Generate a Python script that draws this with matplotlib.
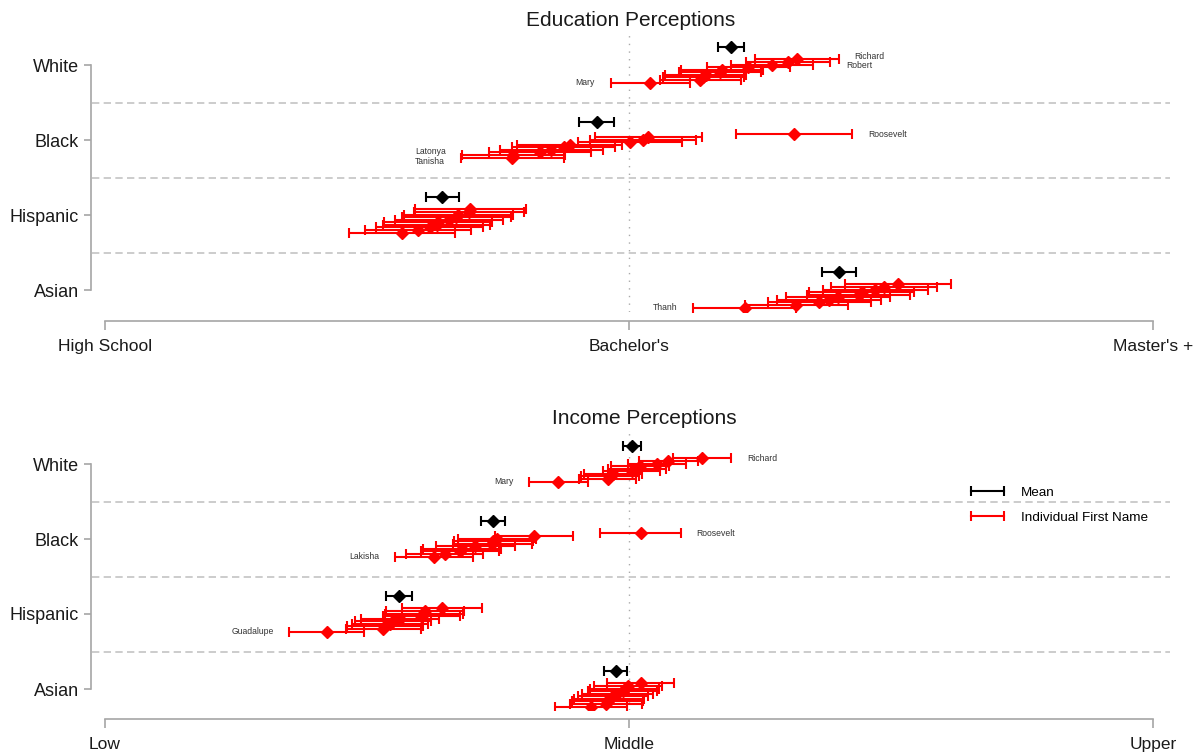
import numpy as np
import matplotlib
matplotlib.use('Agg')
import matplotlib.pyplot as plt
from matplotlib.lines import Line2D
from matplotlib.legend_handler import HandlerLine2D

plt.rcParams['font.family'] = ['Liberation Sans', 'DejaVu Sans']

groups = ['White', 'Black', 'Hispanic', 'Asian']

# Education scale: 1 = High School, 2 = Bachelor's, 3 = Master's +
edu_ticklabels = ['High School', "Bachelor's", "Master's +"]
edu_white = [2.320, 2.304, 2.273, 2.228, 2.178, 2.174, 2.146, 2.142, 2.136, 2.041]
edu_black = [2.315, 2.037, 2.027, 2.002, 1.887, 1.875, 1.852, 1.830, 1.779, 1.777]
edu_hispanic = [1.697, 1.694, 1.674, 1.670, 1.656, 1.636, 1.633, 1.620, 1.598, 1.566]
edu_asian = [2.513, 2.487, 2.470, 2.444, 2.438, 2.399, 2.382, 2.363, 2.319, 2.221]

edu_white_ci = [0.080, 0.080, 0.079, 0.079, 0.078, 0.078, 0.078, 0.077, 0.077, 0.076]
edu_black_ci = [0.111, 0.102, 0.101, 0.100, 0.100, 0.099, 0.099, 0.098, 0.098, 0.098]
edu_hispanic_ci = [0.106, 0.105, 0.104, 0.104, 0.103, 0.103, 0.102, 0.102, 0.101, 0.101]
edu_asian_ci = [0.101, 0.101, 0.100, 0.100, 0.099, 0.099, 0.099, 0.098, 0.098, 0.098]

edu_white_names = ['Richard', 'Robert', '', '', '', '', '', '', '', 'Mary']
edu_black_names = ['Roosevelt', '', '', '', '', '', '', '', 'Latonya', 'Tanisha']
edu_hispanic_names = ['', '', '', '', '', '', '', '', '', '']
edu_asian_names = ['', '', '', '', '', '', '', '', '', 'Thanh']

edu_means = [2.194, 1.938, 1.644, 2.401]
edu_means_ci = [0.025, 0.033, 0.032, 0.033]

# Income scale: 1 = Low, 2 = Middle, 3 = Upper
inc_ticklabels = ['Low', 'Middle', 'Upper']
inc_white = [2.139, 2.075, 2.053, 2.021, 2.015, 2.005, 1.970, 1.964, 1.959, 1.865]
inc_black = [2.022, 1.819, 1.748, 1.741, 1.739, 1.707, 1.681, 1.677, 1.648, 1.628]
inc_hispanic = [1.643, 1.611, 1.609, 1.604, 1.563, 1.550, 1.544, 1.534, 1.531, 1.423]
inc_asian = [2.022, 1.998, 1.992, 1.988, 1.978, 1.970, 1.962, 1.959, 1.956, 1.927]

inc_white_ci = [0.056, 0.056, 0.055, 0.055, 0.055, 0.055, 0.055, 0.055, 0.055, 0.056]
inc_black_ci = [0.077, 0.075, 0.075, 0.075, 0.075, 0.075, 0.074, 0.074, 0.074, 0.075]
inc_hispanic_ci = [0.076, 0.075, 0.075, 0.074, 0.074, 0.073, 0.073, 0.073, 0.072, 0.071]
inc_asian_ci = [0.064, 0.065, 0.066, 0.066, 0.067, 0.067, 0.067, 0.068, 0.068, 0.069]

inc_white_names = ['Richard', '', '', '', '', '', '', '', '', 'Mary']
inc_black_names = ['Roosevelt', '', '', '', '', '', '', '', '', 'Lakisha']
inc_hispanic_names = ['', '', '', '', '', '', '', '', '', 'Guadalupe']
inc_asian_names = ['', '', '', '', '', '', '', '', '', '']

inc_means = [2.006, 1.741, 1.561, 1.975]
inc_means_ci = [0.017, 0.023, 0.024, 0.022]

RED = '#ff0000'
AXIS_GREY = '#a6a6a6'
MIN_LABEL_GAP = 0.125


def place_labels(ax, entries, ha):
    # entries: (x, y, name) sorted from top to bottom; pull apart labels that collide
    ys = [e[1] for e in entries]
    i = 0
    while i < len(entries) - 1:
        if ys[i] - ys[i + 1] < MIN_LABEL_GAP:
            mid = (ys[i] + ys[i + 1]) / 2
            ys[i] = mid + MIN_LABEL_GAP / 2
            ys[i + 1] = mid - MIN_LABEL_GAP / 2
        i += 1
    for (x, _, name), y in zip(entries, ys):
        ax.text(x, y, name, ha=ha, va='center', fontsize=6.2, color='#333333')


def draw_panel(ax, values, cis, names, means, means_ci, ticklabels, ylim):
    ax.set_xlim(0.9752, 3.0324)
    ax.set_ylim(*ylim)
    ax.axvline(2, color='#aaaaaa', lw=1, ls=(0, (1, 4.5)), zorder=0)
    for y in [3.5, 2.5, 1.5]:
        ax.axhline(y, color='#c4c4c4', lw=1.2, ls=(0, (4.4, 2.6)), zorder=0)

    for i, g in enumerate(groups):
        base = len(groups) - i
        vals = np.asarray(values[i])
        ci = np.asarray(cis[i])
        ys = base + np.linspace(0.075, -0.235, len(vals))
        ax.errorbar(vals, ys, xerr=ci, fmt='D', color=RED, ms=6,
                    elinewidth=1.5, capsize=3.6, capthick=1.5, zorder=3)
        ax.errorbar(means[i], base + 0.24, xerr=means_ci[i], fmt='D',
                    color='black', ms=6.5, elinewidth=1.5, capsize=3.6,
                    capthick=1.5, zorder=4)
        right, left = [], []
        for v, c, y, name in zip(vals, ci, ys, names[i]):
            if not name:
                continue
            if v > means[i]:
                right.append((v + c + 0.03, y, name))
            else:
                left.append((v - c - 0.03, y, name))
        place_labels(ax, right, 'left')
        place_labels(ax, left, 'right')

    for side in ['top', 'right']:
        ax.spines[side].set_visible(False)
    ax.spines['left'].set_bounds(1, 4)
    ax.spines['left'].set_position(('outward', 1))
    ax.spines['bottom'].set_bounds(1, 3)
    ax.spines['bottom'].set_position(('outward', 6.5))
    for side in ['left', 'bottom']:
        ax.spines[side].set_color(AXIS_GREY)
        ax.spines[side].set_linewidth(1.2)

    ax.set_yticks([4, 3, 2, 1])
    ax.set_yticklabels(groups)
    ax.set_xticks([1, 2, 3])
    ax.set_xticklabels(ticklabels)
    ax.tick_params(axis='y', length=5, width=1.2, color=AXIS_GREY, pad=3.5,
                   labelsize=13, labelcolor='#1a1a1a')
    ax.tick_params(axis='x', length=6.5, width=1.2, color=AXIS_GREY, pad=6.5,
                   labelsize=12.5, labelcolor='#1a1a1a')


fig = plt.figure(figsize=(11.95, 7.55), dpi=100)
W, H = 1195, 755

ax1 = fig.add_axes([92 / W, 1 - 312 / H, (1170 - 92) / W, 282 / H])
draw_panel(ax1,
           [edu_white, edu_black, edu_hispanic, edu_asian],
           [edu_white_ci, edu_black_ci, edu_hispanic_ci, edu_asian_ci],
           [edu_white_names, edu_black_names, edu_hispanic_names, edu_asian_names],
           edu_means, edu_means_ci, edu_ticklabels, (0.707, 4.467))

ax2 = fig.add_axes([92 / W, 1 - 710 / H, (1170 - 92) / W, 282 / H])
draw_panel(ax2,
           [inc_white, inc_black, inc_hispanic, inc_asian],
           [inc_white_ci, inc_black_ci, inc_hispanic_ci, inc_asian_ci],
           [inc_white_names, inc_black_names, inc_hispanic_names, inc_asian_names],
           inc_means, inc_means_ci, inc_ticklabels, (0.72, 4.48))

fig.text(631 / W, 1 - 21 / H, 'Education Perceptions', ha='center', va='center',
         fontsize=15, color='#1a1a1a')
fig.text(644 / W, 1 - 419 / H, 'Income Perceptions', ha='center', va='center',
         fontsize=15, color='#1a1a1a')

handles = [
    Line2D([], [], color='black', lw=1.5, marker='|', ms=7.2, mew=1.5),
    Line2D([], [], color=RED, lw=1.5, marker='|', ms=7.2, mew=1.5),
]
ax2.legend(handles, ['Mean', 'Individual First Name'], loc='upper left',
           bbox_to_anchor=(966 / W, 1 - 481 / H), bbox_transform=fig.transFigure,
           frameon=False, fontsize=9.7, handlelength=2.44, handletextpad=1.26,
           labelspacing=0.92, borderaxespad=0,
           handler_map={Line2D: HandlerLine2D(marker_pad=0, numpoints=2)})

fig.savefig('out.png', dpi=100)
